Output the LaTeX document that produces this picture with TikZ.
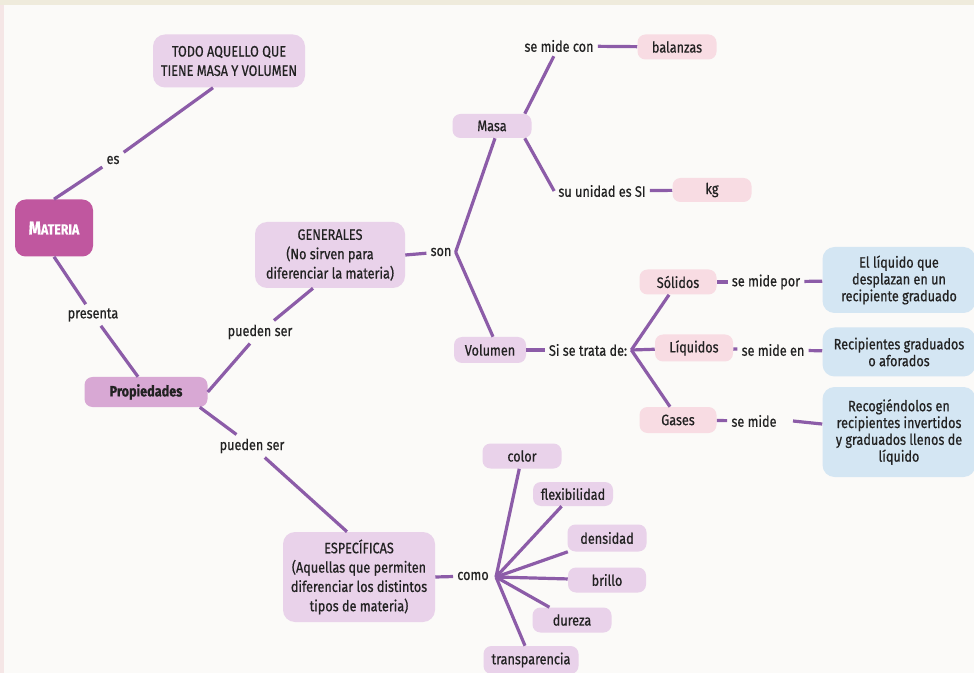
\documentclass[tikz,border=0pt]{standalone}
\usepackage{fontspec}
\setmainfont{Fira Sans}[FakeStretch=0.84, FakeBold=0.6]
\usetikzlibrary{calc}
\definecolor{bgc}{HTML}{FBFAF8}
\definecolor{topc}{HTML}{EFEBDC}
\definecolor{leftc}{HTML}{F5E6E6}
\definecolor{txt}{HTML}{222222}
\definecolor{linec}{HTML}{8C5CA8}
\definecolor{mag}{HTML}{C0579F}
\definecolor{prop}{HTML}{D8A8D4}
\definecolor{lpur}{HTML}{E9D2EA}
\definecolor{lpink}{HTML}{F8DCE3}
\definecolor{lblue}{HTML}{D4E6F3}
\begin{document}
\begin{tikzpicture}[x=0.75pt,y=-0.75pt,
  every node/.style={font=\fontsize{11.3}{14.5}\selectfont, text=txt},
  sz/.style 2 args={minimum width=#1*0.75pt, minimum height=#2*0.75pt},
  box/.style={rounded corners=6pt, align=center, inner sep=1pt},
  pur/.style={box, fill=lpur},
  pnk/.style={box, fill=lpink},
  blu/.style={box, fill=lblue, font=\fontsize{11.3}{12.6}\selectfont},
  lab/.style={inner sep=3pt},
  conn/.style={draw=linec, line width=2.4pt}]
\useasboundingbox (0,0) rectangle (974,673);
\fill[bgc] (0,0) rectangle (974,673);
\fill[topc] (0,0) rectangle (974,5);
\fill[leftc] (0,5) rectangle (4,673);

% main nodes
\node[box, fill=mag, sz={78}{57}, rounded corners=8pt, text=white, font=\bfseries] (mat) at (54,228) {{\fontsize{14}{16}\selectfont M}{\fontsize{11}{16}\selectfont ATERIA}};
\node[pur, sz={152}{53}, rounded corners=9pt] (todo) at (229,61) {TODO AQUELLO QUE\\TIENE MASA Y VOLUMEN};
\node[box, fill=prop, sz={123}{30}, font={\fontsize{11.3}{14.5}\selectfont\bfseries}] (prop) at (146,392) {Propiedades};
\node[pur, sz={150}{66}, rounded corners=9pt] (gen) at (330,255) {GENERALES\\(No sirven para\\diferenciar la materia)};
\node[pur, sz={152}{90}, rounded corners=9pt] (esp) at (359,577) {ESPECÍFICAS\\(Aquellas que permiten\\diferenciar los distintos\\tipos de materia)};

\node[pur, sz={79}{24}] (masa) at (492,126) {Masa};
\node[pur, sz={72}{26}] (vol) at (490,350) {Volumen};
\node[pnk, sz={79}{25}] (bal) at (677,47) {balanzas};
\node[pnk, sz={79}{24}] (kg) at (712,190) {kg};
\node[pnk, sz={77}{25}] (sol) at (678,282) {Sólidos};
\node[pnk, sz={78}{27}] (liq) at (694,348) {Líquidos};
\node[pnk, sz={77}{26}] (gas) at (678,420) {Gases};
\node[blu, sz={153}{66}, rounded corners=9pt] (b1) at (899,280) {El líquido que\\desplazan en un\\recipiente graduado};
\node[blu, sz={153}{49}, rounded corners=9pt] (b2) at (899,352) {Recipientes graduados\\o aforados};
\node[blu, sz={153}{90}, rounded corners=9pt] (b3) at (899,432) {Recogiéndolos en\\recipientes invertidos\\y graduados llenos de\\líquido};

\node[pur, sz={79}{25}] (color) at (522,456) {color};
\node[pur, sz={80}{24}] (flex) at (573,494) {flexibilidad};
\node[pur, sz={79}{27}] (dens) at (607,538) {densidad};
\node[pur, sz={78}{25}] (bri) at (607,580) {brillo};
\node[pur, sz={79}{25}] (dur) at (572,620) {dureza};
\node[pur, sz={95}{28}] (tra) at (531,660) {transparencia};

% labels
\node[lab] (es) at (113,160) {es};
\node[lab] (pres) at (93,315) {presenta};
\node[lab] (pu1) at (260,332) {pueden ser};
\node[lab] (pu2) at (252,446) {pueden ser};
\node[lab] (son) at (441,252) {son};
\node[lab] (smc) at (559,46) {se mide con};
\node[lab] (sus) at (602,191) {su unidad es SI};
\node[lab] (sst) at (588,350) {Si se trata de:};
\node[lab] (smp) at (766,282) {se mide por};
\node[lab] (sme) at (773,350) {se mide en};
\node[lab] (sm) at (754,421) {se mide};
\node[lab] (como) at (473,576) {como};
\coordinate (hub) at (496,577);
\coordinate (smr) at (793,421);

% connectors
\path (todo.south) ++(-16,0) coordinate (t1);
\draw[conn] (t1) -- (es);
\draw[conn] (es) -- (mat.north);
\draw[conn] (mat.south) -- (pres);
\draw[conn] (pres) -- ($(prop.north)+(-8,0)$);
\draw[conn] (prop.east) -- (pu1);
\draw[conn] (pu1) -- ($(gen.south)+(-17,0)$);
\draw[conn] ($(prop.south east)+(-8,0)$) -- (pu2);
\draw[conn] (pu2) -- ($(esp.north)+(-12,0)$);
\draw[conn] (gen.east) -- (son);
\draw[conn] (son.east) -- ($(masa.south)+(3,0)$);
\draw[conn] (son.east) -- ($(vol.north)+(3,0)$);
\draw[conn] ($(masa.north east)+(-7,0)$) -- (smc);
\draw[conn] (smc) -- (bal);
\draw[conn] ($(masa.south east)+(-7,0)$) -- (sus.west);
\draw[conn] (sus) -- (kg);
\draw[conn] (vol) -- (sst);
\draw[conn] (sst.east) -- ($(sol.south)+(-9,0)$);
\draw[conn] (sst.east) -- (liq);
\draw[conn] (sst.east) -- ($(gas.north)+(-8,0)$);
\draw[conn] (sol) -- (smp);
\draw[conn] (smp) -- (b1);
\draw[conn] (liq) -- (sme);
\draw[conn] (sme) -- (b2);
\draw[conn] (gas) -- (sm);
\draw[conn] (smr) -- (b3);
\draw[conn] (esp.east) -- (como);
\foreach \t in {color,flex,dens,bri,dur,tra} \draw[conn] (hub) -- (\t);
\end{tikzpicture}
\end{document}
